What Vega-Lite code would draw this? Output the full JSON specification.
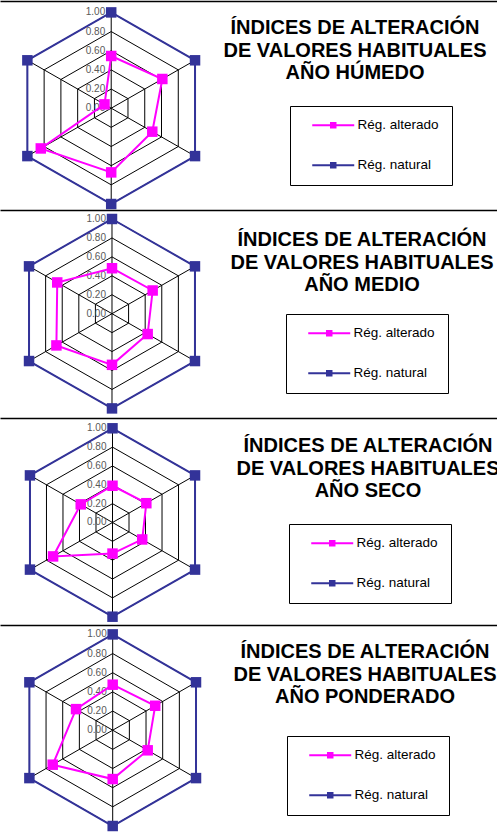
{
  "$schema": "https://vega.github.io/schema/vega-lite/v6.json",
  "padding": {"top": 1, "left": 0, "right": 0, "bottom": 0},
  "spacing": 0,
  "bounds": "flush",
  "config": {"view": {"stroke": null}, "font": "Liberation Sans"},
  "resolve": {"scale": {"color": "independent", "x": "independent", "y": "independent"}, "legend": {"color": "independent"}},
  "datasets": {
    "grid": [{"level": [0, 0.2, 0.4, 0.6, 0.8, 1], "axis": [0, 1, 2, 3, 4, 5]}],
    "series": [
      {"anio": "HÚMEDO", "serie": "Rég. alterado", "eje": 0, "valor": 0.545},
      {"anio": "HÚMEDO", "serie": "Rég. alterado", "eje": 1, "valor": 0.61},
      {"anio": "HÚMEDO", "serie": "Rég. alterado", "eje": 2, "valor": 0.49},
      {"anio": "HÚMEDO", "serie": "Rég. alterado", "eje": 3, "valor": 0.67},
      {"anio": "HÚMEDO", "serie": "Rég. alterado", "eje": 4, "valor": 0.84},
      {"anio": "HÚMEDO", "serie": "Rég. alterado", "eje": 5, "valor": 0.08},
      {"anio": "HÚMEDO", "serie": "Rég. natural", "eje": 0, "valor": 1},
      {"anio": "HÚMEDO", "serie": "Rég. natural", "eje": 1, "valor": 1},
      {"anio": "HÚMEDO", "serie": "Rég. natural", "eje": 2, "valor": 1},
      {"anio": "HÚMEDO", "serie": "Rég. natural", "eje": 3, "valor": 1},
      {"anio": "HÚMEDO", "serie": "Rég. natural", "eje": 4, "valor": 1},
      {"anio": "HÚMEDO", "serie": "Rég. natural", "eje": 5, "valor": 1},
      {"anio": "MEDIO", "serie": "Rég. alterado", "eje": 0, "valor": 0.48},
      {"anio": "MEDIO", "serie": "Rég. alterado", "eje": 1, "valor": 0.49},
      {"anio": "MEDIO", "serie": "Rég. alterado", "eje": 2, "valor": 0.43},
      {"anio": "MEDIO", "serie": "Rég. alterado", "eje": 3, "valor": 0.54},
      {"anio": "MEDIO", "serie": "Rég. alterado", "eje": 4, "valor": 0.67},
      {"anio": "MEDIO", "serie": "Rég. alterado", "eje": 5, "valor": 0.66},
      {"anio": "MEDIO", "serie": "Rég. natural", "eje": 0, "valor": 1},
      {"anio": "MEDIO", "serie": "Rég. natural", "eje": 1, "valor": 1},
      {"anio": "MEDIO", "serie": "Rég. natural", "eje": 2, "valor": 1},
      {"anio": "MEDIO", "serie": "Rég. natural", "eje": 3, "valor": 1},
      {"anio": "MEDIO", "serie": "Rég. natural", "eje": 4, "valor": 1},
      {"anio": "MEDIO", "serie": "Rég. natural", "eje": 5, "valor": 1},
      {"anio": "SECO", "serie": "Rég. alterado", "eje": 0, "valor": 0.39},
      {"anio": "SECO", "serie": "Rég. alterado", "eje": 1, "valor": 0.41},
      {"anio": "SECO", "serie": "Rég. alterado", "eje": 2, "valor": 0.36},
      {"anio": "SECO", "serie": "Rég. alterado", "eje": 3, "valor": 0.33},
      {"anio": "SECO", "serie": "Rég. alterado", "eje": 4, "valor": 0.72},
      {"anio": "SECO", "serie": "Rég. alterado", "eje": 5, "valor": 0.385},
      {"anio": "SECO", "serie": "Rég. natural", "eje": 0, "valor": 1},
      {"anio": "SECO", "serie": "Rég. natural", "eje": 1, "valor": 1},
      {"anio": "SECO", "serie": "Rég. natural", "eje": 2, "valor": 1},
      {"anio": "SECO", "serie": "Rég. natural", "eje": 3, "valor": 1},
      {"anio": "SECO", "serie": "Rég. natural", "eje": 4, "valor": 1},
      {"anio": "SECO", "serie": "Rég. natural", "eje": 5, "valor": 1},
      {"anio": "PONDERADO", "serie": "Rég. alterado", "eje": 0, "valor": 0.475},
      {"anio": "PONDERADO", "serie": "Rég. alterado", "eje": 1, "valor": 0.51},
      {"anio": "PONDERADO", "serie": "Rég. alterado", "eje": 2, "valor": 0.42},
      {"anio": "PONDERADO", "serie": "Rég. alterado", "eje": 3, "valor": 0.51},
      {"anio": "PONDERADO", "serie": "Rég. alterado", "eje": 4, "valor": 0.72},
      {"anio": "PONDERADO", "serie": "Rég. alterado", "eje": 5, "valor": 0.44},
      {"anio": "PONDERADO", "serie": "Rég. natural", "eje": 0, "valor": 1},
      {"anio": "PONDERADO", "serie": "Rég. natural", "eje": 1, "valor": 1},
      {"anio": "PONDERADO", "serie": "Rég. natural", "eje": 2, "valor": 1},
      {"anio": "PONDERADO", "serie": "Rég. natural", "eje": 3, "valor": 1},
      {"anio": "PONDERADO", "serie": "Rég. natural", "eje": 4, "valor": 1},
      {"anio": "PONDERADO", "serie": "Rég. natural", "eje": 5, "valor": 1}
    ]
  },
  "vconcat": [
    {
      "width": 497, "height": 209,
      "title": {"text": ["ÍNDICES DE ALTERACIÓN", "DE VALORES HABITUALES", "AÑO HÚMEDO"], "orient": "top", "anchor": "middle", "frame": "group", "offset": 0, "baseline": "top", "dx": 106.5, "dy": 82, "fontSize": 20, "font": "Liberation Sans", "fontWeight": "bold", "color": "black", "lineHeight": 22.5},
      "layer": [
        {"data": {"name": "grid"}, "transform": [{"flatten": ["level"]}, {"flatten": ["axis"]}, {"filter": "datum.level > 0"}, {"calculate": "datum.level*sin(datum.axis*PI/3)", "as": "px"}, {"calculate": "datum.level*cos(datum.axis*PI/3)", "as": "py"}],
         "mark": {"type": "line", "interpolate": "linear-closed", "color": "black", "strokeWidth": 1},
         "encoding": {"x": {"field": "px", "type": "quantitative", "scale": {"domain": [-1.1488, 3.9855], "nice": false, "zero": false}, "axis": {"orient": "top", "domain": true, "domainColor": "#000000", "domainWidth": 1.5, "ticks": false, "labels": false, "grid": false, "title": null}},
                      "y": {"field": "py", "type": "quantitative", "scale": {"domain": [-1.0626, 1.119], "nice": false, "zero": false}, "axis": null},
                      "detail": {"field": "level"}, "order": {"field": "axis"}}},
        {"data": {"name": "grid"}, "transform": [{"flatten": ["level"]}, {"flatten": ["axis"]}, {"filter": "datum.level == 1"}, {"calculate": "datum.level*sin(datum.axis*PI/3)", "as": "px"}, {"calculate": "datum.level*cos(datum.axis*PI/3)", "as": "py"}],
         "mark": {"type": "rule", "color": "black", "strokeWidth": 1},
         "encoding": {"x": {"field": "px", "type": "quantitative", "axis": {"orient": "top", "domain": true, "domainColor": "#000000", "domainWidth": 1.5, "ticks": false, "labels": false, "grid": false, "title": null}}, "y": {"field": "py", "type": "quantitative", "axis": null}, "x2": {"datum": 0}, "y2": {"datum": 0}}},
        {"data": {"name": "grid"}, "transform": [{"flatten": ["level"]}, {"flatten": ["axis"]}, {"filter": "datum.axis == 0"}, {"calculate": "datum.level*cos(datum.axis*PI/3)", "as": "py"}],
         "mark": {"type": "text", "align": "right", "baseline": "middle", "dx": -6, "fontSize": 10, "color": "#595959", "font": "Liberation Sans"},
         "encoding": {"x": {"datum": 0, "type": "quantitative", "axis": {"orient": "top", "domain": true, "domainColor": "#000000", "domainWidth": 1.5, "ticks": false, "labels": false, "grid": false, "title": null}}, "y": {"field": "py", "type": "quantitative", "axis": null}, "text": {"field": "level", "format": ".2f"}}},
        {"data": {"name": "series"}, "transform": [{"filter": "datum.anio == 'HÚMEDO'"}, {"calculate": "datum.valor*sin(datum.eje*PI/3)", "as": "px"}, {"calculate": "datum.valor*cos(datum.eje*PI/3)", "as": "py"}],
         "mark": {"type": "line", "interpolate": "linear-closed", "strokeWidth": 2},
         "encoding": {"x": {"field": "px", "type": "quantitative", "axis": {"orient": "top", "domain": true, "domainColor": "#000000", "domainWidth": 1.5, "ticks": false, "labels": false, "grid": false, "title": null}}, "y": {"field": "py", "type": "quantitative", "axis": null}, "order": {"field": "eje"},
                      "color": {"field": "serie", "type": "nominal", "scale": {"domain": ["Rég. alterado", "Rég. natural"], "range": ["#FF00FF", "#333399"]},
                                "legend": {"orient": "none", "legendX": 290, "legendY": 105, "title": null, "symbolType": "M0.46,-0.15H6.92V0.15H0.46Z M3.19,-0.5H4.19V0.5H3.19Z", "symbolSize": 169, "symbolStrokeWidth": 0, "symbolOpacity": 1, "strokeColor": "black", "fillColor": "white", "padding": 12.5, "rowPadding": 25, "labelOffset": 41.5, "labelFontSize": 13.5, "labelFont": "Liberation Sans", "labelColor": "black", "labelLimit": 0, "labelExpr": "datum.label + '   '"}}}},
        {"data": {"name": "series"}, "transform": [{"filter": "datum.anio == 'HÚMEDO'"}, {"calculate": "datum.valor*sin(datum.eje*PI/3)", "as": "px"}, {"calculate": "datum.valor*cos(datum.eje*PI/3)", "as": "py"}],
         "mark": {"type": "point", "shape": "square", "filled": true, "size": 110, "opacity": 1},
         "encoding": {"x": {"field": "px", "type": "quantitative", "axis": {"orient": "top", "domain": true, "domainColor": "#000000", "domainWidth": 1.5, "ticks": false, "labels": false, "grid": false, "title": null}}, "y": {"field": "py", "type": "quantitative", "axis": null},
                      "color": {"field": "serie", "type": "nominal", "scale": {"domain": ["Rég. alterado", "Rég. natural"], "range": ["#FF00FF", "#333399"]},
                                "legend": {"orient": "none", "legendX": 290, "legendY": 105, "title": null, "symbolType": "M0.46,-0.15H6.92V0.15H0.46Z M3.19,-0.5H4.19V0.5H3.19Z", "symbolSize": 169, "symbolStrokeWidth": 0, "symbolOpacity": 1, "strokeColor": "black", "fillColor": "white", "padding": 12.5, "rowPadding": 25, "labelOffset": 41.5, "labelFontSize": 13.5, "labelFont": "Liberation Sans", "labelColor": "black", "labelLimit": 0, "labelExpr": "datum.label + '   '"}}}}
      ]
    },
    {
      "width": 497, "height": 208,
      "title": {"text": ["ÍNDICES DE ALTERACIÓN", "DE VALORES HABITUALES", "AÑO MEDIO"], "orient": "top", "anchor": "middle", "frame": "group", "offset": 0, "baseline": "top", "dx": 113.5, "dy": 85, "fontSize": 20, "font": "Liberation Sans", "fontWeight": "bold", "color": "black", "lineHeight": 22.5},
      "layer": [
        {"data": {"name": "grid"}, "transform": [{"flatten": ["level"]}, {"flatten": ["axis"]}, {"filter": "datum.level > 0"}, {"calculate": "datum.level*sin(datum.axis*PI/3)", "as": "px"}, {"calculate": "datum.level*cos(datum.axis*PI/3)", "as": "py"}],
         "mark": {"type": "line", "interpolate": "linear-closed", "color": "black", "strokeWidth": 1},
         "encoding": {"x": {"field": "px", "type": "quantitative", "scale": {"domain": [-1.1691, 4.0188], "nice": false, "zero": false}, "axis": {"orient": "top", "domain": true, "domainColor": "#000000", "domainWidth": 1.5, "ticks": false, "labels": false, "grid": false, "title": null}},
                      "y": {"field": "py", "type": "quantitative", "scale": {"domain": [-1.1014, 1.095], "nice": false, "zero": false}, "axis": null},
                      "detail": {"field": "level"}, "order": {"field": "axis"}}},
        {"data": {"name": "grid"}, "transform": [{"flatten": ["level"]}, {"flatten": ["axis"]}, {"filter": "datum.level == 1"}, {"calculate": "datum.level*sin(datum.axis*PI/3)", "as": "px"}, {"calculate": "datum.level*cos(datum.axis*PI/3)", "as": "py"}],
         "mark": {"type": "rule", "color": "black", "strokeWidth": 1},
         "encoding": {"x": {"field": "px", "type": "quantitative", "axis": {"orient": "top", "domain": true, "domainColor": "#000000", "domainWidth": 1.5, "ticks": false, "labels": false, "grid": false, "title": null}}, "y": {"field": "py", "type": "quantitative", "axis": null}, "x2": {"datum": 0}, "y2": {"datum": 0}}},
        {"data": {"name": "grid"}, "transform": [{"flatten": ["level"]}, {"flatten": ["axis"]}, {"filter": "datum.axis == 0"}, {"calculate": "datum.level*cos(datum.axis*PI/3)", "as": "py"}],
         "mark": {"type": "text", "align": "right", "baseline": "middle", "dx": -6, "fontSize": 10, "color": "#595959", "font": "Liberation Sans"},
         "encoding": {"x": {"datum": 0, "type": "quantitative", "axis": {"orient": "top", "domain": true, "domainColor": "#000000", "domainWidth": 1.5, "ticks": false, "labels": false, "grid": false, "title": null}}, "y": {"field": "py", "type": "quantitative", "axis": null}, "text": {"field": "level", "format": ".2f"}}},
        {"data": {"name": "series"}, "transform": [{"filter": "datum.anio == 'MEDIO'"}, {"calculate": "datum.valor*sin(datum.eje*PI/3)", "as": "px"}, {"calculate": "datum.valor*cos(datum.eje*PI/3)", "as": "py"}],
         "mark": {"type": "line", "interpolate": "linear-closed", "strokeWidth": 2},
         "encoding": {"x": {"field": "px", "type": "quantitative", "axis": {"orient": "top", "domain": true, "domainColor": "#000000", "domainWidth": 1.5, "ticks": false, "labels": false, "grid": false, "title": null}}, "y": {"field": "py", "type": "quantitative", "axis": null}, "order": {"field": "eje"},
                      "color": {"field": "serie", "type": "nominal", "scale": {"domain": ["Rég. alterado", "Rég. natural"], "range": ["#FF00FF", "#333399"]},
                                "legend": {"orient": "none", "legendX": 286, "legendY": 104, "title": null, "symbolType": "M0.46,-0.15H6.92V0.15H0.46Z M3.19,-0.5H4.19V0.5H3.19Z", "symbolSize": 169, "symbolStrokeWidth": 0, "symbolOpacity": 1, "strokeColor": "black", "fillColor": "white", "padding": 12.5, "rowPadding": 25, "labelOffset": 41.5, "labelFontSize": 13.5, "labelFont": "Liberation Sans", "labelColor": "black", "labelLimit": 0, "labelExpr": "datum.label + '   '"}}}},
        {"data": {"name": "series"}, "transform": [{"filter": "datum.anio == 'MEDIO'"}, {"calculate": "datum.valor*sin(datum.eje*PI/3)", "as": "px"}, {"calculate": "datum.valor*cos(datum.eje*PI/3)", "as": "py"}],
         "mark": {"type": "point", "shape": "square", "filled": true, "size": 110, "opacity": 1},
         "encoding": {"x": {"field": "px", "type": "quantitative", "axis": {"orient": "top", "domain": true, "domainColor": "#000000", "domainWidth": 1.5, "ticks": false, "labels": false, "grid": false, "title": null}}, "y": {"field": "py", "type": "quantitative", "axis": null},
                      "color": {"field": "serie", "type": "nominal", "scale": {"domain": ["Rég. alterado", "Rég. natural"], "range": ["#FF00FF", "#333399"]},
                                "legend": {"orient": "none", "legendX": 286, "legendY": 104, "title": null, "symbolType": "M0.46,-0.15H6.92V0.15H0.46Z M3.19,-0.5H4.19V0.5H3.19Z", "symbolSize": 169, "symbolStrokeWidth": 0, "symbolOpacity": 1, "strokeColor": "black", "fillColor": "white", "padding": 12.5, "rowPadding": 25, "labelOffset": 41.5, "labelFontSize": 13.5, "labelFont": "Liberation Sans", "labelColor": "black", "labelLimit": 0, "labelExpr": "datum.label + '   '"}}}}
      ]
    },
    {
      "width": 497, "height": 207,
      "title": {"text": ["ÍNDICES DE ALTERACIÓN", "DE VALORES HABITUALES", "AÑO SECO"], "orient": "top", "anchor": "middle", "frame": "group", "offset": 0, "baseline": "top", "dx": 119.5, "dy": 83, "fontSize": 20, "font": "Liberation Sans", "fontWeight": "bold", "color": "black", "lineHeight": 22.5},
      "layer": [
        {"data": {"name": "grid"}, "transform": [{"flatten": ["level"]}, {"flatten": ["axis"]}, {"filter": "datum.level > 0"}, {"calculate": "datum.level*sin(datum.axis*PI/3)", "as": "px"}, {"calculate": "datum.level*cos(datum.axis*PI/3)", "as": "py"}],
         "mark": {"type": "line", "interpolate": "linear-closed", "color": "black", "strokeWidth": 1},
         "encoding": {"x": {"field": "px", "type": "quantitative", "scale": {"domain": [-1.1805, 4.0346], "nice": false, "zero": false}, "axis": {"orient": "top", "domain": true, "domainColor": "#000000", "domainWidth": 1.5, "ticks": false, "labels": false, "grid": false, "title": null}},
                      "y": {"field": "py", "type": "quantitative", "scale": {"domain": [-1.0881, 1.1093], "nice": false, "zero": false}, "axis": null},
                      "detail": {"field": "level"}, "order": {"field": "axis"}}},
        {"data": {"name": "grid"}, "transform": [{"flatten": ["level"]}, {"flatten": ["axis"]}, {"filter": "datum.level == 1"}, {"calculate": "datum.level*sin(datum.axis*PI/3)", "as": "px"}, {"calculate": "datum.level*cos(datum.axis*PI/3)", "as": "py"}],
         "mark": {"type": "rule", "color": "black", "strokeWidth": 1},
         "encoding": {"x": {"field": "px", "type": "quantitative", "axis": {"orient": "top", "domain": true, "domainColor": "#000000", "domainWidth": 1.5, "ticks": false, "labels": false, "grid": false, "title": null}}, "y": {"field": "py", "type": "quantitative", "axis": null}, "x2": {"datum": 0}, "y2": {"datum": 0}}},
        {"data": {"name": "grid"}, "transform": [{"flatten": ["level"]}, {"flatten": ["axis"]}, {"filter": "datum.axis == 0"}, {"calculate": "datum.level*cos(datum.axis*PI/3)", "as": "py"}],
         "mark": {"type": "text", "align": "right", "baseline": "middle", "dx": -6, "fontSize": 10, "color": "#595959", "font": "Liberation Sans"},
         "encoding": {"x": {"datum": 0, "type": "quantitative", "axis": {"orient": "top", "domain": true, "domainColor": "#000000", "domainWidth": 1.5, "ticks": false, "labels": false, "grid": false, "title": null}}, "y": {"field": "py", "type": "quantitative", "axis": null}, "text": {"field": "level", "format": ".2f"}}},
        {"data": {"name": "series"}, "transform": [{"filter": "datum.anio == 'SECO'"}, {"calculate": "datum.valor*sin(datum.eje*PI/3)", "as": "px"}, {"calculate": "datum.valor*cos(datum.eje*PI/3)", "as": "py"}],
         "mark": {"type": "line", "interpolate": "linear-closed", "strokeWidth": 2},
         "encoding": {"x": {"field": "px", "type": "quantitative", "axis": {"orient": "top", "domain": true, "domainColor": "#000000", "domainWidth": 1.5, "ticks": false, "labels": false, "grid": false, "title": null}}, "y": {"field": "py", "type": "quantitative", "axis": null}, "order": {"field": "eje"},
                      "color": {"field": "serie", "type": "nominal", "scale": {"domain": ["Rég. alterado", "Rég. natural"], "range": ["#FF00FF", "#333399"]},
                                "legend": {"orient": "none", "legendX": 289, "legendY": 106, "title": null, "symbolType": "M0.46,-0.15H6.92V0.15H0.46Z M3.19,-0.5H4.19V0.5H3.19Z", "symbolSize": 169, "symbolStrokeWidth": 0, "symbolOpacity": 1, "strokeColor": "black", "fillColor": "white", "padding": 12.5, "rowPadding": 25, "labelOffset": 41.5, "labelFontSize": 13.5, "labelFont": "Liberation Sans", "labelColor": "black", "labelLimit": 0, "labelExpr": "datum.label + '   '"}}}},
        {"data": {"name": "series"}, "transform": [{"filter": "datum.anio == 'SECO'"}, {"calculate": "datum.valor*sin(datum.eje*PI/3)", "as": "px"}, {"calculate": "datum.valor*cos(datum.eje*PI/3)", "as": "py"}],
         "mark": {"type": "point", "shape": "square", "filled": true, "size": 110, "opacity": 1},
         "encoding": {"x": {"field": "px", "type": "quantitative", "axis": {"orient": "top", "domain": true, "domainColor": "#000000", "domainWidth": 1.5, "ticks": false, "labels": false, "grid": false, "title": null}}, "y": {"field": "py", "type": "quantitative", "axis": null},
                      "color": {"field": "serie", "type": "nominal", "scale": {"domain": ["Rég. alterado", "Rég. natural"], "range": ["#FF00FF", "#333399"]},
                                "legend": {"orient": "none", "legendX": 289, "legendY": 106, "title": null, "symbolType": "M0.46,-0.15H6.92V0.15H0.46Z M3.19,-0.5H4.19V0.5H3.19Z", "symbolSize": 169, "symbolStrokeWidth": 0, "symbolOpacity": 1, "strokeColor": "black", "fillColor": "white", "padding": 12.5, "rowPadding": 25, "labelOffset": 41.5, "labelFontSize": 13.5, "labelFont": "Liberation Sans", "labelColor": "black", "labelLimit": 0, "labelExpr": "datum.label + '   '"}}}}
      ]
    },
    {
      "width": 497, "height": 208,
      "title": {"text": ["ÍNDICES DE ALTERACIÓN", "DE VALORES HABITUALES", "AÑO PONDERADO"], "orient": "top", "anchor": "middle", "frame": "group", "offset": 0, "baseline": "top", "dx": 116.5, "dy": 82, "fontSize": 20, "font": "Liberation Sans", "fontWeight": "bold", "color": "black", "lineHeight": 22.5},
      "layer": [
        {"data": {"name": "grid"}, "transform": [{"flatten": ["level"]}, {"flatten": ["axis"]}, {"filter": "datum.level > 0"}, {"calculate": "datum.level*sin(datum.axis*PI/3)", "as": "px"}, {"calculate": "datum.level*cos(datum.axis*PI/3)", "as": "py"}],
         "mark": {"type": "line", "interpolate": "linear-closed", "color": "black", "strokeWidth": 1},
         "encoding": {"x": {"field": "px", "type": "quantitative", "scale": {"domain": [-1.1715, 3.9948], "nice": false, "zero": false}, "axis": {"orient": "top", "domain": true, "domainColor": "#000000", "domainWidth": 1.5, "ticks": false, "labels": false, "grid": false, "title": null}},
                      "y": {"field": "py", "type": "quantitative", "scale": {"domain": [-1.0731, 1.0981], "nice": false, "zero": false}, "axis": null},
                      "detail": {"field": "level"}, "order": {"field": "axis"}}},
        {"data": {"name": "grid"}, "transform": [{"flatten": ["level"]}, {"flatten": ["axis"]}, {"filter": "datum.level == 1"}, {"calculate": "datum.level*sin(datum.axis*PI/3)", "as": "px"}, {"calculate": "datum.level*cos(datum.axis*PI/3)", "as": "py"}],
         "mark": {"type": "rule", "color": "black", "strokeWidth": 1},
         "encoding": {"x": {"field": "px", "type": "quantitative", "axis": {"orient": "top", "domain": true, "domainColor": "#000000", "domainWidth": 1.5, "ticks": false, "labels": false, "grid": false, "title": null}}, "y": {"field": "py", "type": "quantitative", "axis": null}, "x2": {"datum": 0}, "y2": {"datum": 0}}},
        {"data": {"name": "grid"}, "transform": [{"flatten": ["level"]}, {"flatten": ["axis"]}, {"filter": "datum.axis == 0"}, {"calculate": "datum.level*cos(datum.axis*PI/3)", "as": "py"}],
         "mark": {"type": "text", "align": "right", "baseline": "middle", "dx": -6, "fontSize": 10, "color": "#595959", "font": "Liberation Sans"},
         "encoding": {"x": {"datum": 0, "type": "quantitative", "axis": {"orient": "top", "domain": true, "domainColor": "#000000", "domainWidth": 1.5, "ticks": false, "labels": false, "grid": false, "title": null}}, "y": {"field": "py", "type": "quantitative", "axis": null}, "text": {"field": "level", "format": ".2f"}}},
        {"data": {"name": "series"}, "transform": [{"filter": "datum.anio == 'PONDERADO'"}, {"calculate": "datum.valor*sin(datum.eje*PI/3)", "as": "px"}, {"calculate": "datum.valor*cos(datum.eje*PI/3)", "as": "py"}],
         "mark": {"type": "line", "interpolate": "linear-closed", "strokeWidth": 2},
         "encoding": {"x": {"field": "px", "type": "quantitative", "axis": {"orient": "top", "domain": true, "domainColor": "#000000", "domainWidth": 1.5, "ticks": false, "labels": false, "grid": false, "title": null}}, "y": {"field": "py", "type": "quantitative", "axis": null}, "order": {"field": "eje"},
                      "color": {"field": "serie", "type": "nominal", "scale": {"domain": ["Rég. alterado", "Rég. natural"], "range": ["#FF00FF", "#333399"]},
                                "legend": {"orient": "none", "legendX": 287, "legendY": 111, "title": null, "symbolType": "M0.46,-0.15H6.92V0.15H0.46Z M3.19,-0.5H4.19V0.5H3.19Z", "symbolSize": 169, "symbolStrokeWidth": 0, "symbolOpacity": 1, "strokeColor": "black", "fillColor": "white", "padding": 12.5, "rowPadding": 25, "labelOffset": 41.5, "labelFontSize": 13.5, "labelFont": "Liberation Sans", "labelColor": "black", "labelLimit": 0, "labelExpr": "datum.label + '   '"}}}},
        {"data": {"name": "series"}, "transform": [{"filter": "datum.anio == 'PONDERADO'"}, {"calculate": "datum.valor*sin(datum.eje*PI/3)", "as": "px"}, {"calculate": "datum.valor*cos(datum.eje*PI/3)", "as": "py"}],
         "mark": {"type": "point", "shape": "square", "filled": true, "size": 110, "opacity": 1},
         "encoding": {"x": {"field": "px", "type": "quantitative", "axis": {"orient": "top", "domain": true, "domainColor": "#000000", "domainWidth": 1.5, "ticks": false, "labels": false, "grid": false, "title": null}}, "y": {"field": "py", "type": "quantitative", "axis": null},
                      "color": {"field": "serie", "type": "nominal", "scale": {"domain": ["Rég. alterado", "Rég. natural"], "range": ["#FF00FF", "#333399"]},
                                "legend": {"orient": "none", "legendX": 287, "legendY": 111, "title": null, "symbolType": "M0.46,-0.15H6.92V0.15H0.46Z M3.19,-0.5H4.19V0.5H3.19Z", "symbolSize": 169, "symbolStrokeWidth": 0, "symbolOpacity": 1, "strokeColor": "black", "fillColor": "white", "padding": 12.5, "rowPadding": 25, "labelOffset": 41.5, "labelFontSize": 13.5, "labelFont": "Liberation Sans", "labelColor": "black", "labelLimit": 0, "labelExpr": "datum.label + '   '"}}}}
      ]
    }
  ]
}
